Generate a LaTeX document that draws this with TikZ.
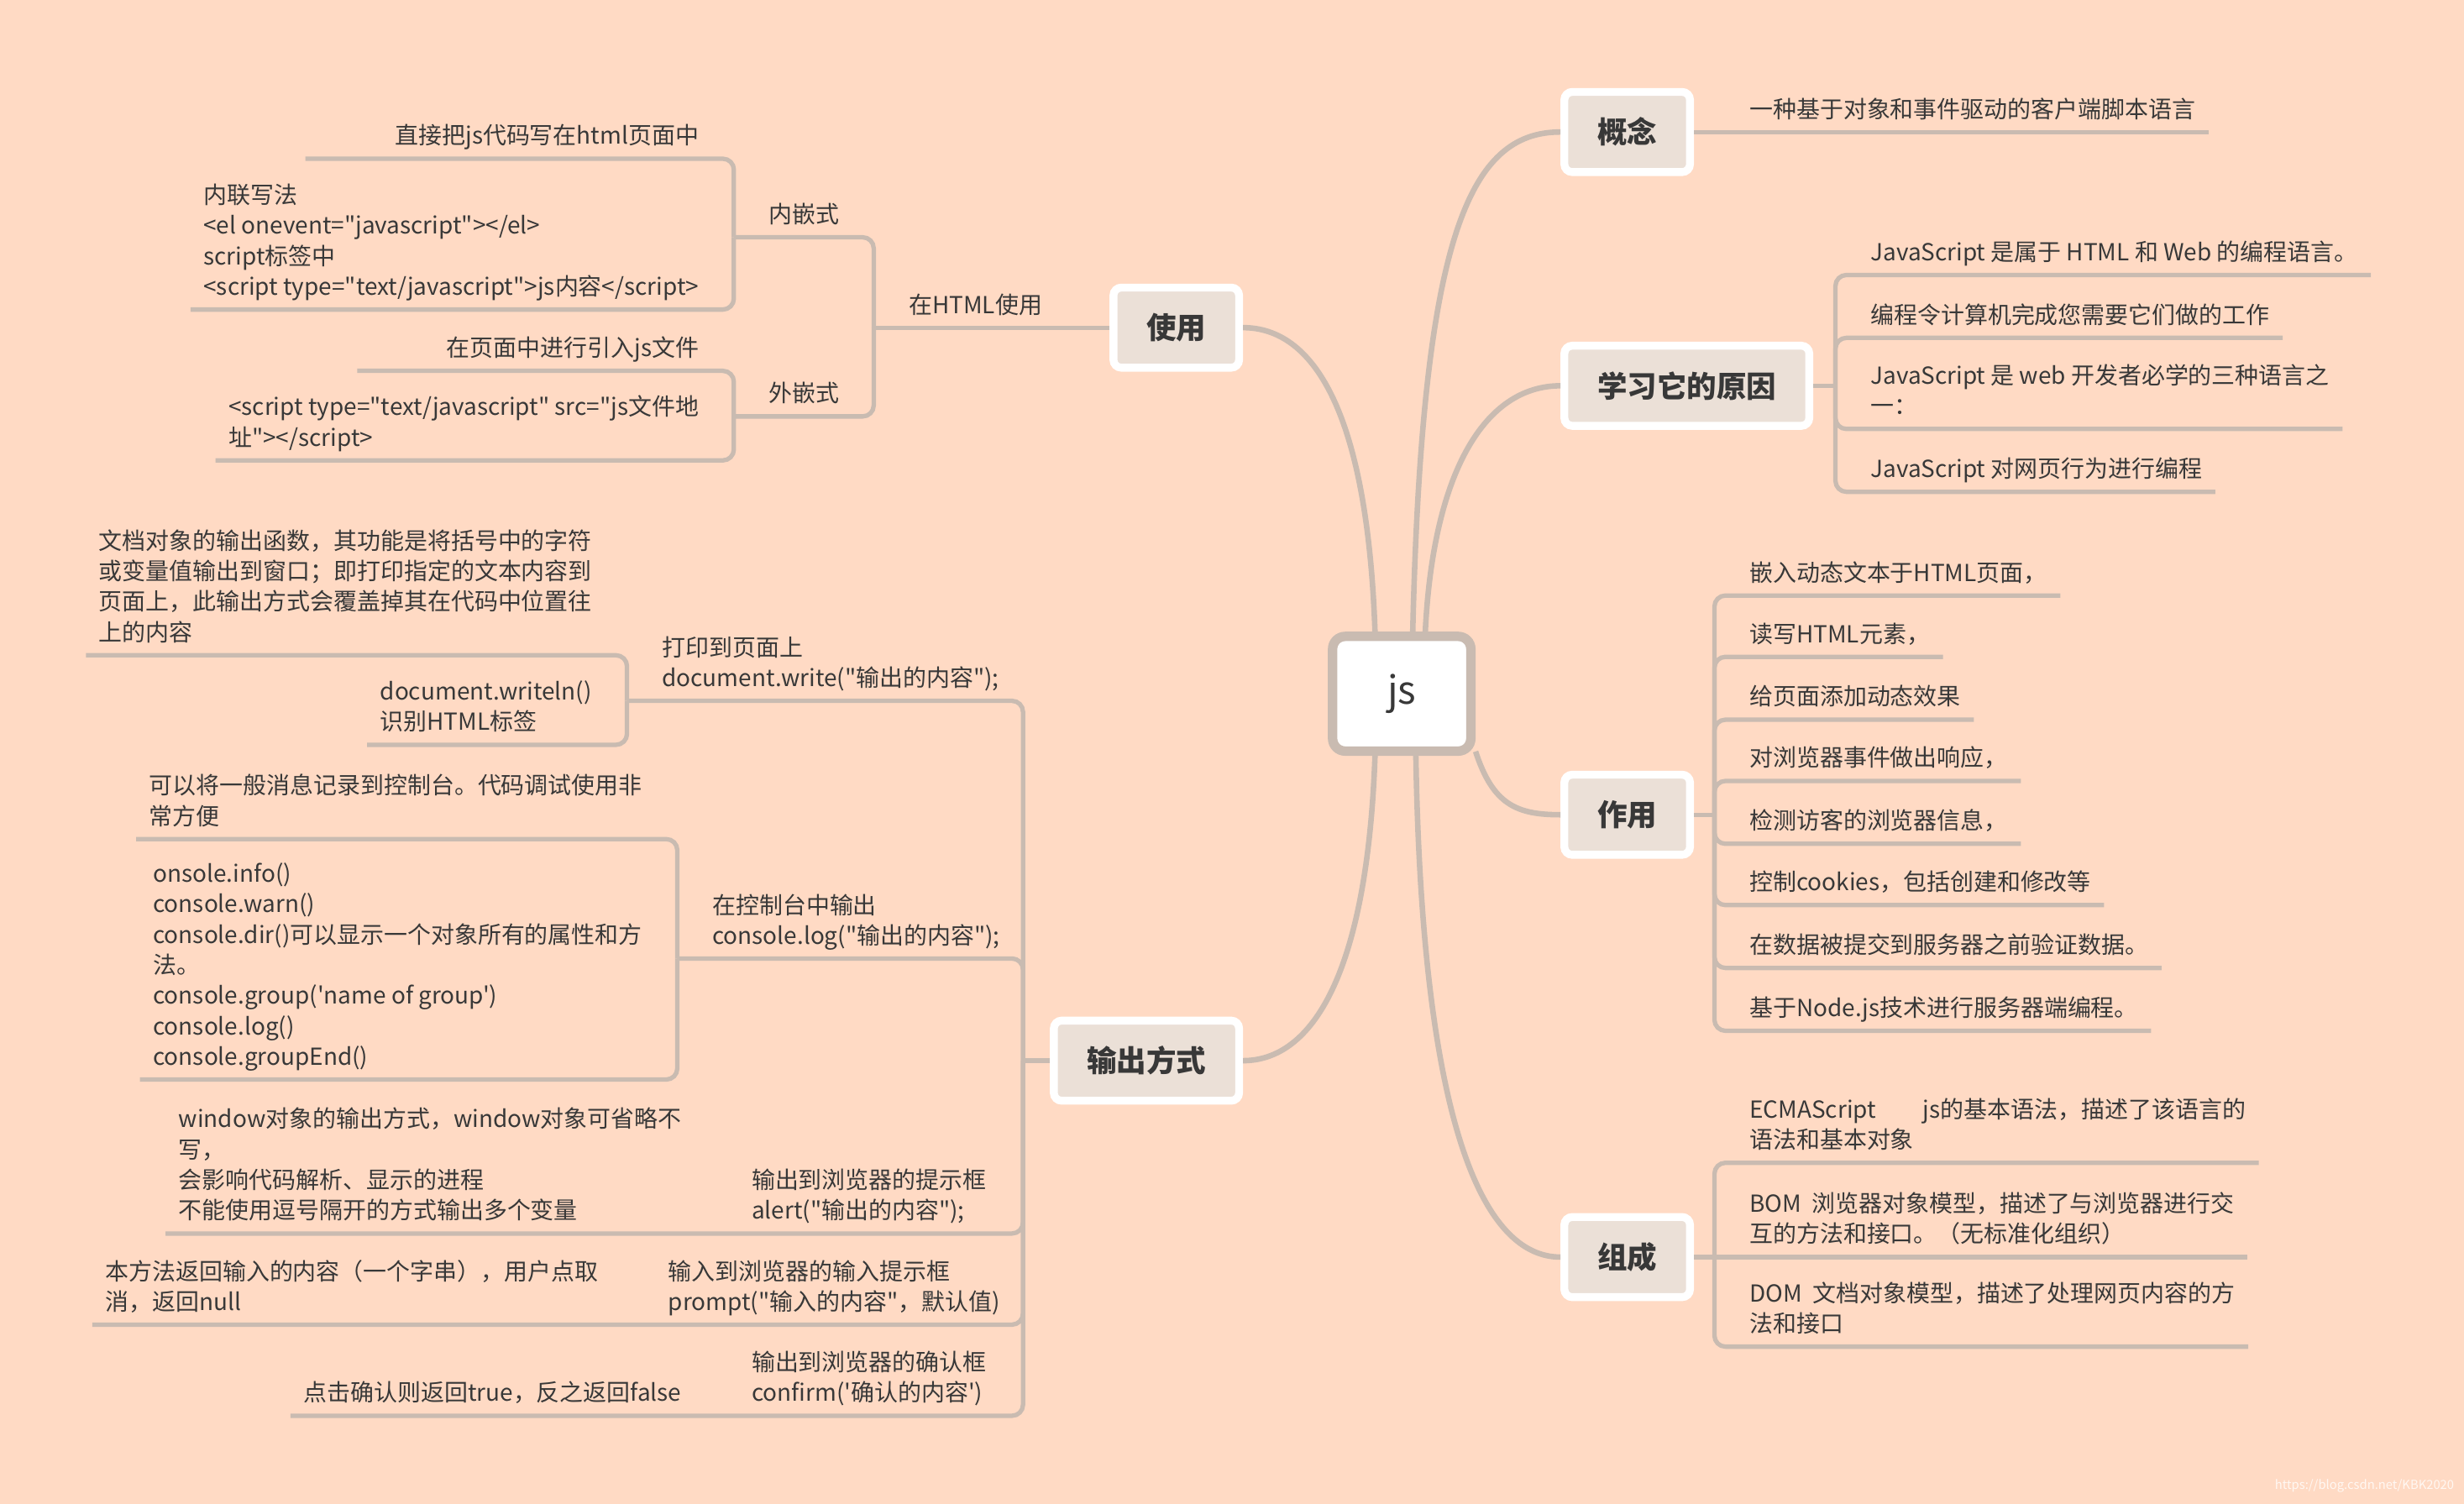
\documentclass[tikz,border=0pt]{standalone}
\usepackage{fontspec}
\setmainfont{Noto Sans CJK SC}[Ligatures=TeXOff]
\definecolor{bgc}{HTML}{FFDAC4}
\definecolor{linec}{HTML}{C9BBB1}
\definecolor{topicc}{HTML}{EBE0D7}
\definecolor{textc}{HTML}{383838}
\begin{document}
\begin{tikzpicture}[x=0.02cm,y=-0.02cm,
    every node/.style={text=textc},
    branch/.style={draw=linec,line width=2pt},
    stem/.style={draw=linec,line width=1.6pt,rounded corners=0.14cm},
    topic/.style={draw=white,line width=0.1cm,fill=topicc,rounded corners=0.1cm,
        minimum height=1.02cm,inner xsep=0.42cm,font=\fontsize{10.8}{13}\selectfont\bfseries},
    leafr/.style={anchor=south west,align=left,inner xsep=0.16cm,inner ysep=5pt,
        text depth=0pt,font=\fontsize{8.5}{11.05}\selectfont},
    leafl/.style={leafr,anchor=south east}]
\fill[bgc] (0,0) rectangle (1568,957);
\useasboundingbox (0,0) rectangle (1568,957);

% centre and main topics
\node[draw=linec,line width=0.12cm,fill=white,rounded corners=0.16cm,minimum width=1.76cm,
    minimum height=1.46cm,font=\fontsize{14}{16}\selectfont] (js) at (892,441.5) {js};
\node[topic,anchor=west] (gn) at (993,84) {概念};
\node[topic,anchor=west] (why) at (993,245.5) {学习它的原因};
\node[topic,anchor=west] (zy) at (993,518.5) {作用};
\node[topic,anchor=west] (zc) at (993,800) {组成};
\node[topic,anchor=east] (use) at (791,208.5) {使用};
\node[topic,anchor=east] (out) at (791,675) {输出方式};

\draw[branch] ([xshift=0.14cm]js.north) .. controls (905,150) and (935,84) .. (gn.west);
\draw[branch] ([xshift=0.3cm]js.north) .. controls (912,300) and (945,245.5) .. (why.west);
\draw[branch] ([xshift=-0.34cm]js.north) .. controls (870,260) and (835,208.5) .. (use.east);
\draw[branch] (js.-38) .. controls (950,512) and (965,518.5) .. (zy.west);
\draw[branch] ([xshift=0.18cm]js.south) .. controls (905,720) and (945,800) .. (zc.west);
\draw[branch] ([xshift=-0.34cm]js.south) .. controls (870,620) and (835,675) .. (out.east);

% 概念
\node[leafr] (gn1) at (1105,84) {一种基于对象和事件驱动的客户端脚本语言};
\draw[stem] (gn.east) -- (gn1.south east);

% 学习它的原因
\coordinate (whyj) at (1168,245.5);
\node[leafr] (w1) at (1182,175) {JavaScript 是属于 HTML 和 Web 的编程语言。};
\node[leafr] (w2) at (1182,215) {编程令计算机完成您需要它们做的工作};
\node[leafr] (w3) at (1182,273) {JavaScript 是 web 开发者必学的三种语言之\\一：};
\node[leafr] (w4) at (1182,313) {JavaScript 对网页行为进行编程};
\draw[stem] (why.east) -- (whyj);
\foreach \n in {w1,w2,w3,w4}
    \draw[stem] (\n.south east) -| (whyj);

% 作用
\coordinate (zyj) at (1091,518.5);
\node[leafr] (f1) at (1105,379) {嵌入动态文本于HTML页面，};
\node[leafr] (f2) at (1105,418) {读写HTML元素，};
\node[leafr] (f3) at (1105,458) {给页面添加动态效果};
\node[leafr] (f4) at (1105,497) {对浏览器事件做出响应，};
\node[leafr] (f5) at (1105,537) {检测访客的浏览器信息，};
\node[leafr] (f6) at (1105,576) {控制cookies，包括创建和修改等};
\node[leafr] (f7) at (1105,616) {在数据被提交到服务器之前验证数据。};
\node[leafr] (f8) at (1105,656) {基于Node.js技术进行服务器端编程。};
\draw[stem] (zy.east) -- (zyj);
\foreach \n in {f1,f2,f3,f4,f5,f6,f7,f8}
    \draw[stem] (\n.south east) -| (zyj);

% 组成
\coordinate (zcj) at (1091,800);
\node[leafr] (c1) at (1105,740) {ECMAScript\quad\quad js的基本语法，描述了该语言的\\语法和基本对象};
\node[leafr] (c2) at (1105,800) {BOM\ \ 浏览器对象模型，描述了与浏览器进行交\\互的方法和接口。（无标准化组织）};
\node[leafr] (c3) at (1105,857) {DOM\ \ 文档对象模型，描述了处理网页内容的方\\法和接口};
\draw[stem] (zc.east) -- (c2.south east);
\draw[stem] (c1.south east) -| (zcj);
\draw[stem] (c3.south east) -| (zcj);

% 使用
\coordinate (usej) at (556,208.5);
\coordinate (nqj) at (467,151);
\coordinate (wqj) at (467,265);
\node[leafr] (uh) at (570,208.5) {在HTML使用};
\node[leafr] (nq) at (481,151) {内嵌式};
\node[leafr] (wq) at (481,265) {外嵌式};
\node[leafl,text width=4.84cm,align=right] (n1) at (453,101) {直接把js代码写在html页面中};
\node[leafl] (n2) at (453,197) {内联写法\\<el onevent="javascript"></el>\\script标签中\\<script type="text/javascript">js内容</script>};
\node[leafl,text width=4.18cm,align=right] (e1) at (453,236) {在页面中进行引入js文件};
\node[leafl] (e2) at (453,293) {<script type="text/javascript" src="js文件地\\址"></script>};
\draw[stem] (use.west) -- (usej);
\draw[stem] (nqj) -| (usej);
\draw[stem] (wqj) -| (usej);
\draw[stem] (n1.south west) -| (nqj);
\draw[stem] (n2.south west) -| (nqj);
\draw[stem] (e1.south west) -| (wqj);
\draw[stem] (e2.south west) -| (wqj);

% 输出方式
\coordinate (outj) at (651,675);
\coordinate (prj) at (399,446);
\coordinate (csj) at (431,610);
\node[leafr] (pr) at (413,446) {打印到页面上\\document.write("输出的内容");};
\node[leafr] (cs) at (445,610) {在控制台中输出\\console.log("输出的内容");};
\node[leafr] (al) at (470,785) {输出到浏览器的提示框\\alert("输出的内容");};
\node[leafr] (pm) at (417,843) {输入到浏览器的输入提示框\\prompt("输入的内容"，默认值)};
\node[leafr] (cf) at (470,901) {输出到浏览器的确认框\\confirm('确认的内容')};
\node[leafl] (pra) at (385,417) {文档对象的输出函数，其功能是将括号中的字符\\或变量值输出到窗口；即打印指定的文本内容到\\页面上，此输出方式会覆盖掉其在代码中位置往\\上的内容};
\node[leafl] (prb) at (385,474) {document.writeln()\\识别HTML标签};
\node[leafl] (csa) at (417,534) {可以将一般消息记录到控制台。代码调试使用非\\常方便};
\node[leafl] (csb) at (417,687) {onsole.info()\\console.warn()\\console.dir()可以显示一个对象所有的属性和方\\法。\\console.group('name of group')\\console.log()\\console.groupEnd()};
\node[leafl] (ala) at (442,785) {window对象的输出方式，window对象可省略不\\写，\\会影响代码解析、显示的进程\\不能使用逗号隔开的方式输出多个变量};
\node[leafl] (pma) at (389,843) {本方法返回输入的内容（一个字串），用户点取\\消，返回null};
\node[leafl] (cfa) at (442,901) {点击确认则返回true，反之返回false};
\draw[stem] (out.west) -- (outj);
\draw[stem] (prj) -| (outj);
\draw[stem] (csj) -| (outj);
\draw[stem] (ala.south west) -| (outj);
\draw[stem] (pma.south west) -| (outj);
\draw[stem] (cfa.south west) -| (outj);
\draw[stem] (pra.south west) -| (prj);
\draw[stem] (prb.south west) -| (prj);
\draw[stem] (csa.south west) -| (csj);
\draw[stem] (csb.south west) -| (csj);

\node[anchor=south east,text=white!80!bgc,font=\fontsize{4.5}{5}\selectfont,inner sep=0pt] (mark) at (1562,950) {https://blog.csdn.net/KBK2020};
\end{tikzpicture}
\end{document}
